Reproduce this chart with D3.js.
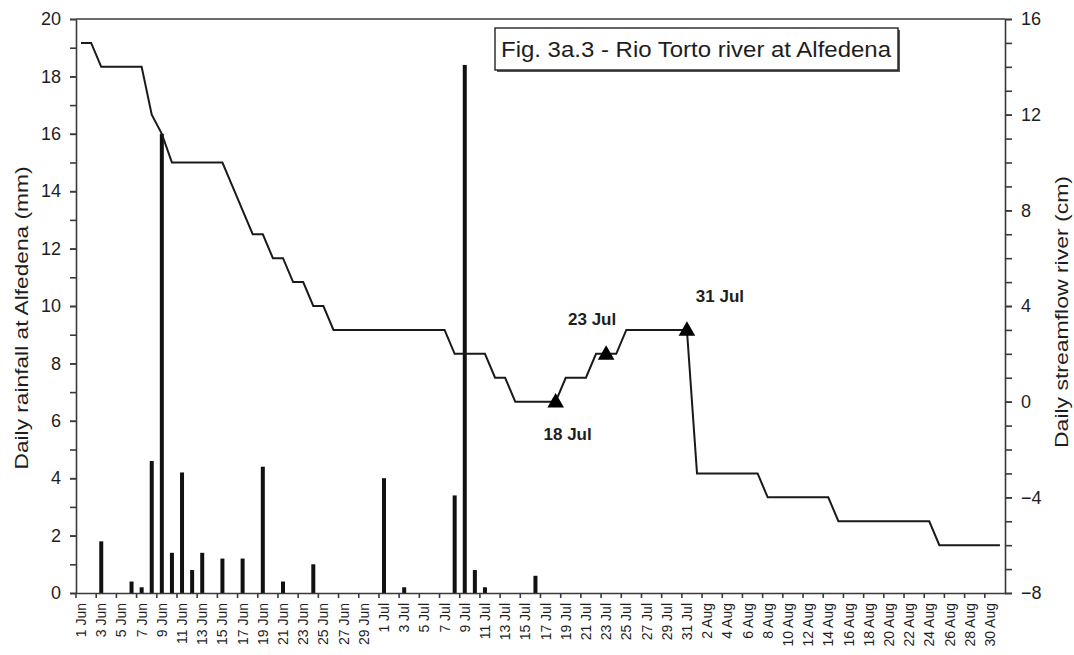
<!DOCTYPE html>
<html>
<head>
<meta charset="utf-8">
<title>Rio Torto river at Alfedena</title>
<style>
body { margin: 0; background: #fff; }
svg { display: block; }
text { font-family: Arial, "Liberation Sans", sans-serif; fill: #1e1e1e; }
.axis path, .axis line { stroke: #3a3a3a; stroke-width: 1.6; }
.axis text { font-size: 18px; }
.xaxis text { font-size: 14px; }
.note { font-size: 17px; font-weight: bold; }
</style>
</head>
<body>
<script src="https://cdn.jsdelivr.net/npm/d3@7/dist/d3.min.js"></script>
<script>

var width = 1074,
    height = 655,
    plotLeft = 76, plotRight = 1005, plotTop = 19, plotBottom = 593

// categories: one per day, 1 Jun - 31 Aug
var monthNames = ['Jun', 'Jul', 'Aug'],
    monthLengths = [30, 31, 31]

var days = []
monthNames.forEach(function(m, i){
    for (var d = 1; d <= monthLengths[i]; d++) days.push(d + ' ' + m)
})

// daily rainfall at Alfedena (mm)
var rainfall = [
    // Jun
    0, 0, 1.8, 0, 0, 0.4, 0.2, 4.6, 16.0, 1.4, 4.2, 0.8, 1.4, 0, 1.2, 0, 1.2, 0, 4.4, 0, 0.4, 0, 0, 1.0,
    0, 0, 0, 0, 0, 0,
    // Jul
    4.0, 0, 0.2, 0, 0, 0, 0, 3.4, 18.4, 0.8, 0.2, 0, 0, 0, 0, 0.6,
    0, 0, 0, 0, 0, 0, 0, 0, 0, 0, 0, 0, 0, 0, 0,
    // Aug
    0, 0, 0, 0, 0, 0, 0, 0, 0, 0, 0, 0, 0, 0, 0, 0, 0, 0, 0, 0, 0, 0, 0, 0, 0, 0, 0, 0, 0, 0, 0
]

// daily streamflow of the river (cm)
var streamflow = [
    // Jun
    15, 15, 14, 14, 14, 14, 14, 12, 11.2, 10, 10, 10, 10, 10, 10, 9, 8, 7, 7, 6, 6, 5, 5, 4, 4,
    3, 3, 3, 3, 3,
    // Jul
    3, 3, 3, 3, 3, 3, 3, 2, 2, 2, 2, 1, 1, 0, 0, 0, 0, 0, 1, 1, 1, 2, 2, 2,
    3, 3, 3, 3, 3, 3, 3,
    // Aug
    -3, -3, -3, -3, -3, -3, -3, -4, -4, -4, -4, -4, -4, -4,
    -5, -5, -5, -5, -5, -5, -5, -5, -5, -5, -6, -6, -6, -6, -6, -6, -6
]

var markedDays = ['18 Jul', '23 Jul', '31 Jul']

var rainTicks = d3.range(0, 21, 2),
    flowTicks = d3.range(-8, 17, 4)

var svg = d3.select('body').append('svg')
    .attr('width', width)
    .attr('height', height)

var x = d3.scaleBand().domain(days).range([plotLeft, plotRight]),
    yRain = d3.scaleLinear().domain([0, 20]).range([plotBottom, plotTop]),
    yFlow = d3.scaleLinear().domain([-8, 16]).range([plotBottom, plotTop])

var bw = x.bandwidth()

// plot frame top line
svg.append('line')
    .attr('x1', plotLeft).attr('x2', plotRight)
    .attr('y1', plotTop).attr('y2', plotTop)
    .attr('stroke', '#3a3a3a').attr('stroke-width', 1.6)

// rainfall bars
svg.append('g').selectAll('rect')
    .data(days.map(function(d, i){ return {day: d, v: rainfall[i]} }).filter(function(d){ return d.v > 0 }))
    .enter().append('rect')
    .attr('x', function(d){ return x(d.day) + bw / 2 - 2 })
    .attr('width', 4)
    .attr('y', function(d){ return yRain(d.v) })
    .attr('height', function(d){ return yRain(0) - yRain(d.v) })
    .attr('fill', '#111')

// streamflow line
var flow = days.map(function(d, i){ return {day: d, v: streamflow[i]} })

svg.append('path')
    .datum(flow)
    .attr('fill', 'none')
    .attr('stroke', '#1a1a1a')
    .attr('stroke-width', 2)
    .attr('d', d3.line()
        .x(function(d){ return x(d.day) + bw / 2 })
        .y(function(d){ return yFlow(d.v) }))

// marked days
var marks = flow.filter(function(d){ return markedDays.indexOf(d.day) >= 0 })
var noteOffset = {'18 Jul': [12, 38], '23 Jul': [-14, -29], '31 Jul': [33, -28]}

svg.append('g').selectAll('path')
    .data(marks)
    .enter().append('path')
    .attr('d', d3.symbol(d3.symbolTriangle, 120))
    .attr('transform', function(d){ return 'translate(' + (x(d.day) + bw / 2) + ',' + (yFlow(d.v) + 1) + ')' })
    .attr('fill', '#000')

svg.append('g').selectAll('text')
    .data(marks)
    .enter().append('text')
    .attr('class', 'note')
    .attr('text-anchor', 'middle')
    .attr('x', function(d){ return x(d.day) + bw / 2 + noteOffset[d.day][0] })
    .attr('y', function(d){ return yFlow(d.v) + noteOffset[d.day][1] })
    .text(function(d){ return d.day })

// left axis (rainfall)
svg.append('g')
    .attr('class', 'axis')
    .attr('transform', 'translate(' + plotLeft + ',0)')
    .call(d3.axisLeft(yRain).tickValues(d3.range(0, 21, 1)).tickFormat('').tickSize(6).tickSizeOuter(0))

svg.append('g')
    .attr('class', 'axis')
    .attr('transform', 'translate(' + plotLeft + ',0)')
    .call(d3.axisLeft(yRain).tickValues(rainTicks).tickSize(6).tickPadding(9).tickSizeOuter(0))
    .call(function(g){ g.select('.domain').remove() })

// right axis (streamflow)
svg.append('g')
    .attr('class', 'axis')
    .attr('transform', 'translate(' + plotRight + ',0)')
    .call(d3.axisRight(yFlow).tickValues(d3.range(-8, 17, 1)).tickFormat('').tickSize(7).tickSizeOuter(0))

svg.append('g')
    .attr('class', 'axis')
    .attr('transform', 'translate(' + plotRight + ',0)')
    .call(d3.axisRight(yFlow).tickValues(flowTicks).tickSize(7).tickPadding(9).tickSizeOuter(0))
    .call(function(g){ g.select('.domain').remove() })

// bottom axis: labels every second day, ticks on category boundaries
var labelDays = days.filter(function(d, i){ return i % 2 === 0 })

var xAxis = svg.append('g')
    .attr('class', 'axis xaxis')
    .attr('transform', 'translate(0,' + plotBottom + ')')
    .call(d3.axisBottom(x).tickValues(labelDays).tickSize(0).tickSizeOuter(0))

xAxis.selectAll('.tick text')
    .attr('transform', 'rotate(-90)')
    .attr('text-anchor', 'end')
    .attr('x', -10)
    .attr('y', 0)
    .attr('dy', '0.36em')

xAxis.selectAll('.bticks')
    .data(labelDays)
    .enter().append('line')
    .attr('class', 'bticks')
    .attr('x1', function(d){ return x(d) })
    .attr('x2', function(d){ return x(d) })
    .attr('y1', 0).attr('y2', 5)

// axis titles
svg.append('text')
    .attr('transform', 'translate(28,318) rotate(-90)')
    .attr('text-anchor', 'middle')
    .attr('font-size', 19)
    .attr('textLength', 303)
    .attr('lengthAdjust', 'spacingAndGlyphs')
    .text('Daily rainfall at Alfedena (mm)')

svg.append('text')
    .attr('transform', 'translate(1068,312) rotate(-90)')
    .attr('text-anchor', 'middle')
    .attr('font-size', 19)
    .attr('textLength', 272)
    .attr('lengthAdjust', 'spacingAndGlyphs')
    .text('Daily streamflow river (cm)')

// title box
svg.append('rect')
    .attr('x', 497).attr('y', 30).attr('width', 403).attr('height', 42)
    .attr('fill', '#555')
svg.append('rect')
    .attr('x', 495).attr('y', 28).attr('width', 403).attr('height', 42)
    .attr('fill', '#fff').attr('stroke', '#222').attr('stroke-width', 1.4)
svg.append('text')
    .attr('x', 696).attr('y', 57)
    .attr('text-anchor', 'middle')
    .attr('font-size', 22)
    .attr('textLength', 390)
    .attr('lengthAdjust', 'spacingAndGlyphs')
    .text('Fig. 3a.3 - Rio Torto river at Alfedena')

</script>
</body>
</html>
